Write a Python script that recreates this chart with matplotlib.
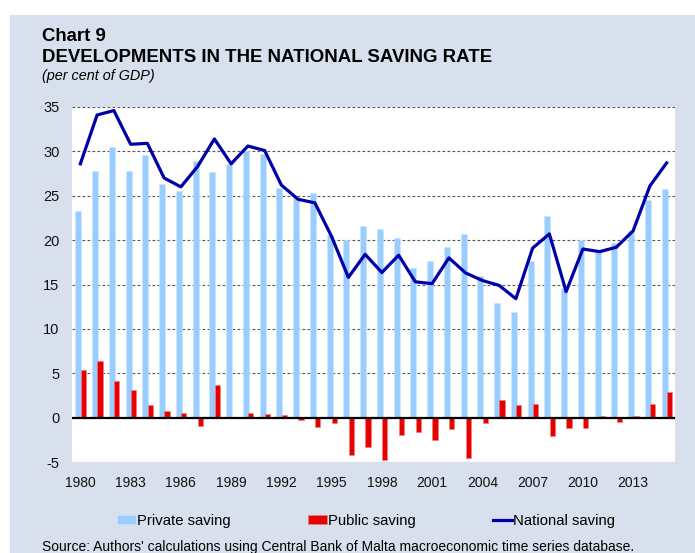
import numpy as np
import matplotlib.pyplot as plt
from matplotlib.patches import Rectangle

plt.rcParams['font.family'] = ['Liberation Sans', 'DejaVu Sans']
plt.rcParams['axes.unicode_minus'] = False

years = np.arange(1980, 2016)
private = np.array([23.3, 27.8, 30.5, 27.8, 29.6, 26.3, 25.5, 28.9, 27.7, 28.6,
                    30.0, 29.7, 25.9, 24.8, 25.3, 20.6, 20.0, 21.6, 21.2, 20.2,
                    16.9, 17.6, 19.2, 20.7, 16.0, 12.9, 11.9, 17.6, 22.7, 14.6,
                    20.0, 18.7, 19.7, 21.0, 24.5, 25.8])
public = np.array([5.4, 6.4, 4.15, 3.1, 1.4, 0.7, 0.55, -0.9, 3.65, 0.0,
                   0.5, 0.45, 0.3, -0.25, -1.1, -0.6, -4.2, -3.3, -4.8, -1.95,
                   -1.6, -2.5, -1.3, -4.5, -0.65, 1.95, 1.45, 1.55, -2.1, -1.2,
                   -1.15, 0.15, -0.5, 0.15, 1.5, 2.85])
national = np.array([28.6, 34.1, 34.6, 30.8, 30.9, 27.0, 26.0, 28.3, 31.4, 28.6,
                     30.6, 30.1, 26.2, 24.6, 24.2, 20.4, 15.8, 18.4, 16.35, 18.3,
                     15.3, 15.1, 18.0, 16.3, 15.45, 14.9, 13.4, 19.1, 20.7, 14.2,
                     19.0, 18.7, 19.2, 21.05, 26.1, 28.7])
xticks = np.arange(1980, 2014, 3)

bg = '#d9e0ed'
fig = plt.figure(figsize=(6.95, 5.53), dpi=100)
fig.patches.append(Rectangle((10 / 695, 0), 1, 1 - 15 / 553, transform=fig.transFigure,
                             facecolor=bg, edgecolor='none', zorder=-10))

ax = fig.add_axes([72 / 695, 1 - 462 / 553, 603 / 695, 355 / 553])
ax.set_facecolor('white')

b1 = ax.bar(years - 0.125, private, width=0.36, color='#99ccff', edgecolor='#cce6ff',
            linewidth=0.4, label='Private saving', zorder=2)
b2 = ax.bar(years + 0.17, public, width=0.32, color='#e60000', edgecolor='#f08080',
            linewidth=0.4, label='Public saving', zorder=2)
l1, = ax.plot(years, national, color='#0000a8', linewidth=2.3, label='National saving', zorder=4)

ax.axhline(0, color='black', linewidth=1.6, zorder=3)
for v in range(-5, 40, 5):
    if v != 0:
        ax.axhline(v, color='#555555', linewidth=0.8, linestyle=(0, (2.5, 2)), zorder=1)

ax.set_xlim(1979.5, 2015.5)
ax.set_ylim(-5, 35)
ax.set_yticks(range(-5, 40, 5))
ax.set_xticks(xticks)
ax.tick_params(axis='both', length=0, labelsize=10, colors='#111111')
ax.tick_params(axis='y', labelsize=10.5, pad=9)
ax.tick_params(axis='x', pad=10)
for s in ax.spines.values():
    s.set_visible(False)

fig.text(42 / 695, 1 - 36.5 / 553, 'Chart 9', fontsize=13.4, fontweight='bold', va='center')
fig.text(42 / 695, 1 - 57.5 / 553, 'DEVELOPMENTS IN THE NATIONAL SAVING RATE', fontsize=13.4,
         fontweight='bold', va='center')
fig.text(42 / 695, 1 - 76 / 553, '(per cent of GDP)', fontsize=10.4, style='italic', va='center')

fig.legend([b1, b2, l1], ['Private saving', 'Public saving', 'National saving'],
           loc='center', bbox_to_anchor=(366 / 695, 1 - 521 / 553), ncol=3, frameon=False,
           fontsize=10.7, handlelength=1.28, handleheight=0.54, handletextpad=0.05,
           columnspacing=5.2)

fig.text(42 / 695, 1 - 547 / 553, "Source: Authors' calculations using Central Bank of Malta macroeconomic time series database.",
         fontsize=10, va='center')

fig.savefig('out.png', dpi=100, facecolor='white')
